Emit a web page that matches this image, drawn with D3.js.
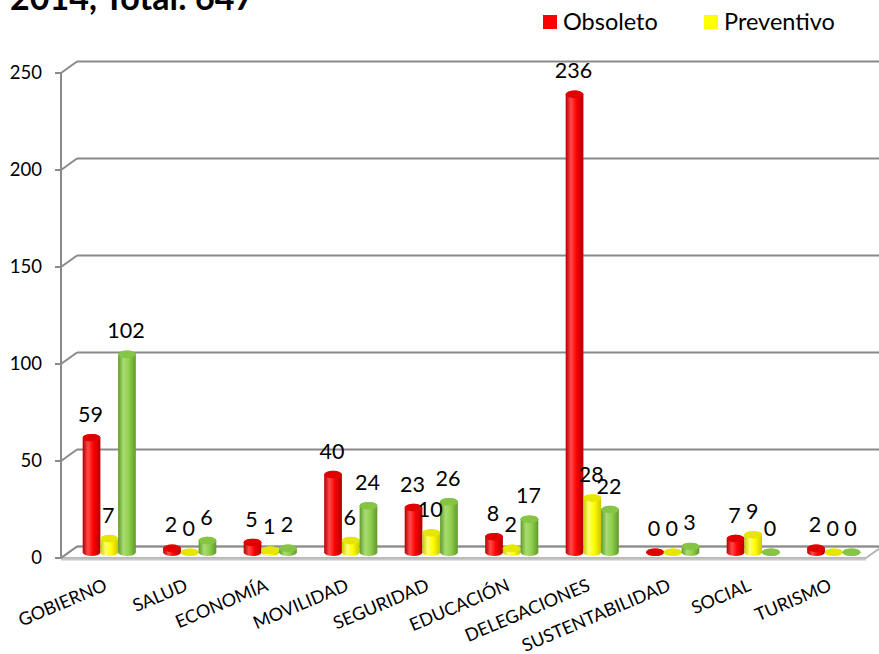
<!DOCTYPE html>
<html>
<head>
<meta charset="utf-8">
<script src="https://cdn.jsdelivr.net/npm/d3@7"></script>
<style>
  html, body { margin: 0; padding: 0; background: #fff; }
  svg { display: block; font-family: Lato, "Noto Sans", sans-serif; }
</style>
</head>
<body>
<svg id="chart" width="879" height="654"></svg>
<script>
const titleText = "2014, Total: 647";
const categories = ["GOBIERNO","SALUD","ECONOMÍA","MOVILIDAD","SEGURIDAD","EDUCACIÓN","DELEGACIONES","SUSTENTABILIDAD","SOCIAL","TURISMO"];
const seriesNames = ["Obsoleto","Preventivo","Correctivo"];
const obsoleto   = [59, 2, 5, 40, 23, 8, 236, 0, 7, 2];
const preventivo = [7, 0, 1, 6, 10, 2, 28, 0, 9, 0];
const correctivo = [102, 6, 2, 24, 26, 17, 22, 3, 0, 0];
const yTicks = [0, 50, 100, 150, 200, 250];
const legendNames = ["Obsoleto","Preventivo"];

const seriesValues = [obsoleto, preventivo, correctivo];
const colors = [
  {base:"#ff0000", dark:"#b00000", light:"#ff4a4a", top:"#e00000"},
  {base:"#ffff00", dark:"#c8c800", light:"#ffff70", top:"#e6e600"},
  {base:"#92d050", dark:"#5f9a2a", light:"#a8dc70", top:"#86c444"}
];

const svg = d3.select("#chart");
const W = 879;
const DX = 16, DY = -11.5;
const x0Front = 61, x1Front = 866;

const y = d3.scaleLinear().domain([0, 250]).range([558, 73]);
const x = d3.scaleBand().domain(categories).range([x0Front, x1Front]).paddingInner(0.34).paddingOuter(0.17);
const xs = d3.scaleBand().domain(seriesNames).range([0, x.bandwidth()]);

// gradients
const defs = svg.append("defs");
colors.forEach((c, i) => {
  const g = defs.append("linearGradient").attr("id", "grad" + i).attr("x1", "0%").attr("x2", "100%");
  g.append("stop").attr("offset", "0%").attr("stop-color", c.dark);
  g.append("stop").attr("offset", "30%").attr("stop-color", c.light);
  g.append("stop").attr("offset", "60%").attr("stop-color", c.base);
  g.append("stop").attr("offset", "100%").attr("stop-color", c.dark);
});

// title
svg.append("text").attr("x", 10).attr("y", 10)
  .attr("font-size", 34).attr("font-weight", "bold").attr("fill", "#000")
  .text(titleText);

// legend
const legendX = [543, 704];
legendNames.forEach((n, i) => {
  svg.append("rect").attr("x", legendX[i]).attr("y", 15).attr("width", 14).attr("height", 14)
    .attr("fill", colors[i].base);
  svg.append("text").attr("x", legendX[i] + 20).attr("y", 29.5)
    .attr("font-size", 23.5).attr("fill", "#000").text(n);
});

const grid = svg.append("g");
const gridColor = "#8a8a8a";

// floor
const y0 = y(0);
grid.append("path")
  .attr("d", `M${x0Front},${y0} L${x1Front},${y0} L${x1Front + DX},${y0 + DY} L${x0Front + DX},${y0 + DY} Z`)
  .attr("fill", "#ffffff").attr("stroke", "#b8b8b8").attr("stroke-width", 2);
grid.append("line").attr("x1", x0Front).attr("x2", x1Front).attr("y1", y0 + 1.5).attr("y2", y0 + 1.5)
  .attr("stroke", "#c8c8c8").attr("stroke-width", 2);

// back-wall gridlines and side-wall diagonals
yTicks.forEach(t => {
  const yy = y(t);
  grid.append("line").attr("x1", x0Front + DX).attr("x2", W + 5).attr("y1", yy + DY).attr("y2", yy + DY)
    .attr("stroke", gridColor).attr("stroke-width", 2);
  grid.append("line").attr("x1", x0Front).attr("x2", x0Front + DX).attr("y1", yy).attr("y2", yy + DY)
    .attr("stroke", gridColor).attr("stroke-width", 2);
  grid.append("line").attr("x1", x0Front - 6).attr("x2", x0Front).attr("y1", yy).attr("y2", yy)
    .attr("stroke", gridColor).attr("stroke-width", 2);
  grid.append("text").attr("x", 42).attr("y", yy).attr("dy", "0.35em")
    .attr("text-anchor", "end").attr("font-size", 18.5).attr("fill", "#000").text(t);
});
// front vertical axis
grid.append("line").attr("x1", x0Front).attr("x2", x0Front).attr("y1", y(250)).attr("y2", y(0))
  .attr("stroke", gridColor).attr("stroke-width", 2);

// bars (cylinders) at mid depth
const bars = svg.append("g");
const labels = svg.append("g");
const ry = 3.8;
categories.forEach((cat, ci) => {
  seriesNames.forEach((s, si) => {
    const v = seriesValues[si][ci];
    const bx = x(cat) + xs(s) + DX / 2;
    const bw = xs.bandwidth();
    const rx = bw / 2;
    const bot = y(0) + DY / 2;
    const top = y(v) + DY / 2;
    const cx = bx + rx;
    bars.append("path")
      .attr("d", `M${bx},${top} L${bx},${bot} A${rx},${ry} 0 0 0 ${bx + bw},${bot} L${bx + bw},${top} A${rx},${ry} 0 0 0 ${bx},${top} Z`)
      .attr("fill", `url(#grad${si})`);
    bars.append("ellipse").attr("cx", cx).attr("cy", top).attr("rx", rx).attr("ry", ry)
      .attr("fill", colors[si].top);
    labels.append("text").attr("x", cx - 1).attr("y", top - 16)
      .attr("text-anchor", "middle").attr("font-size", 21.5).attr("fill", "#000").text(v);
  });
});

// category labels
categories.forEach(cat => {
  const cx = x(cat) + x.bandwidth() / 2 + 2;
  svg.append("text")
    .attr("transform", `translate(${cx},${578}) rotate(-23)`)
    .attr("text-anchor", "end").attr("dy", "0.72em")
    .attr("font-size", 18).attr("fill", "#000").text(cat);
});
</script>
</body>
</html>
